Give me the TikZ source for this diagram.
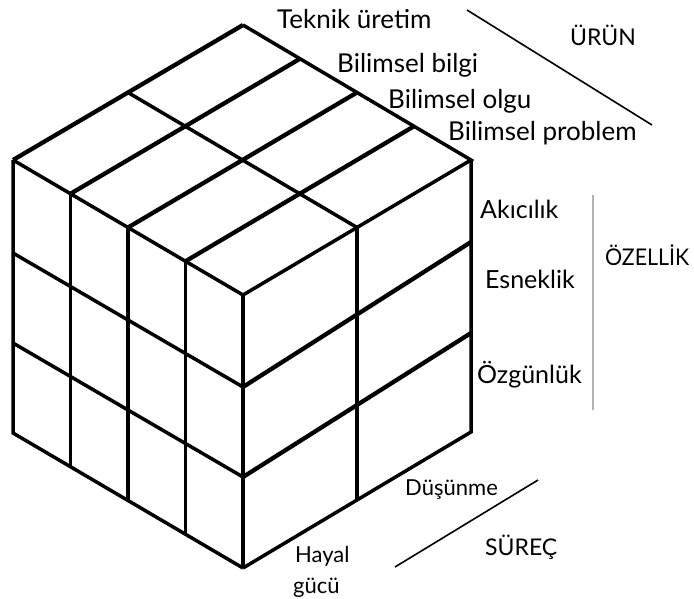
\documentclass[tikz,border=0pt]{standalone}
\usepackage{fontspec}
\setmainfont{Lato}
\usetikzlibrary{calc}
\tikzset{
  edgeline/.style={line width=3.5pt, line join=miter},
  thickline/.style={line width=4.3pt, line join=miter},
  biglabel/.style={anchor=base west, inner sep=0pt, font=\fontsize{26}{30}\selectfont},
  sidelabel/.style={anchor=base west, inner sep=0pt, font=\fontsize{25}{30}\selectfont},
  catlabel/.style={anchor=base west, inner sep=0pt, font=\fontsize{23}{28}\selectfont},
  smalllabel/.style={anchor=base west, inner sep=0pt, font=\fontsize{22}{30}\selectfont},
  guide/.style={line width=1.6pt},
  greyguide/.style={line width=2pt, draw=black!30}
}
\begin{document}
\begin{tikzpicture}[x=1pt,y=-1pt]
\useasboundingbox (0,0) rectangle (694,598);
% corners
\coordinate (T) at (243,25);
\coordinate (L) at (13,160);
\coordinate (F) at (243,295);
\coordinate (R) at (471,160);
\coordinate (L2) at (13,253);
\coordinate (L3) at (13,343);
\coordinate (BL) at (13,433);
\coordinate (F2) at (243,387);
\coordinate (F3) at (243,477);
\coordinate (B) at (243,568);
\coordinate (R2) at (471,242);
\coordinate (R3) at (471,333);
\coordinate (BR) at (471,432);
% left face
\draw[edgeline] (L) -- (BL) -- (B);
\draw[edgeline] (L2) -- (F2);
\draw[edgeline] (L3) -- (F3);
\foreach \k in {0.25,0.5,0.75}
  \draw[edgeline] ($(L)!\k!(F)$) -- ($(BL)!\k!(B)$);
% right face
\draw[edgeline] (B) -- (BR) -- (R);
\draw[thickline] (F2) -- (R2);
\draw[thickline] (F3) -- (R3);
\draw[edgeline] ($(F)!0.5!(R)$) -- ($(B)!0.5!(BR)$);
\draw[edgeline] (F) -- (B);
% top face
\draw[edgeline] (L) -- (F) -- (R) -- (T);
\draw[thickline] (T) -- (L);
\draw[edgeline] ($(T)!0.5!(L)$) -- ($(R)!0.5!(F)$);
\foreach \k in {0.25,0.5,0.75}
  \draw[thickline] ($(T)!\k!(R)$) -- ($(L)!\k!(F)$);
% labels: product
\node[biglabel] (tek) at (277,28) {Teknik üretim};
\node[biglabel] (bbilgi) at (337,72) {Bilimsel bilgi};
\node[biglabel] (bolgu) at (388,108) {Bilimsel olgu};
\node[biglabel] (bprob) at (448,140) {Bilimsel problem};
\node[catlabel] (urun) at (570,45) {ÜRÜN};
\coordinate (u1) at (467,10);
\coordinate (u2) at (652,125);
\draw[guide] (u1) -- (u2);
% labels: property
\node[sidelabel] (akici) at (480,218) {Akıcılık};
\node[sidelabel] (esnek) at (485,288) {Esneklik};
\node[sidelabel] (ozgun) at (477,383) {Özgünlük};
\node[catlabel] (ozel) at (605,265) {\scalebox{0.93}[1]{ÖZELLİK}};
\coordinate (g1) at (593,195);
\coordinate (g2) at (593,410);
\draw[greyguide] (g1) -- (g2);
% labels: process
\node[smalllabel] (dus) at (405,495) {Düşünme};
\node[catlabel] (surec) at (485,555) {SÜREÇ};
\node[smalllabel] (hayal) at (295,562) {Hayal};
\node[smalllabel] (gucu) at (293,593) {gücü};
\coordinate (s1) at (395,567);
\coordinate (s2) at (538,480);
\draw[guide] (s1) -- (s2);
\end{tikzpicture}
\end{document}
